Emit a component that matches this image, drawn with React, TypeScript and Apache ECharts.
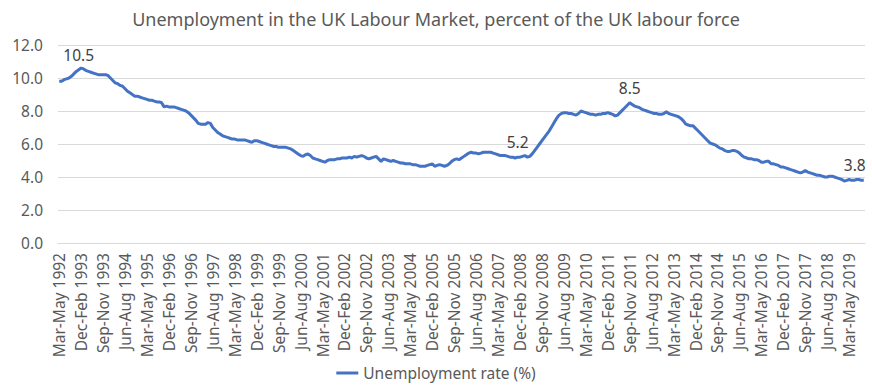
import React, { useEffect, useRef } from "react";
import * as echarts from "echarts";

// Unemployment rate (%), rolling three-month periods, labelled by end month
const u1992 = [9.8, 9.8, 9.9, 9.95, 10.0, 10.1, 10.25, 10.4]; // May-Dec
const u1993 = [10.5, 10.6, 10.55, 10.45, 10.4, 10.35, 10.3, 10.25, 10.2, 10.2, 10.2, 10.2];
const u1994 = [10.15, 10.0, 9.85, 9.7, 9.65, 9.55, 9.5, 9.35, 9.2, 9.1, 9.0, 8.9];
const u1995 = [8.9, 8.85, 8.8, 8.75, 8.7, 8.65, 8.65, 8.6, 8.55, 8.55, 8.5, 8.25];
const u1996 = [8.3, 8.25, 8.25, 8.25, 8.2, 8.15, 8.1, 8.05, 8.0, 7.9, 7.75, 7.6];
const u1997 = [7.45, 7.25, 7.2, 7.2, 7.2, 7.3, 7.25, 7.0, 6.85, 6.7, 6.6, 6.5];
const u1998 = [6.45, 6.4, 6.35, 6.3, 6.3, 6.25, 6.25, 6.25, 6.25, 6.2, 6.15, 6.1];
const u1999 = [6.2, 6.2, 6.15, 6.1, 6.05, 6.0, 5.95, 5.9, 5.85, 5.85, 5.8, 5.8];
const u2000 = [5.8, 5.8, 5.75, 5.7, 5.6, 5.5, 5.4, 5.3, 5.25, 5.35, 5.4, 5.3];
const u2001 = [5.15, 5.1, 5.05, 5.0, 4.95, 4.9, 5.0, 5.05, 5.05, 5.05, 5.1, 5.1];
const u2002 = [5.15, 5.15, 5.15, 5.2, 5.15, 5.25, 5.2, 5.25, 5.3, 5.25, 5.15, 5.1];
const u2003 = [5.15, 5.2, 5.25, 5.1, 4.95, 5.1, 5.05, 5.0, 4.95, 5.0, 4.95, 4.9];
const u2004 = [4.85, 4.85, 4.8, 4.8, 4.8, 4.75, 4.75, 4.7, 4.65, 4.65, 4.65, 4.7];
const u2005 = [4.75, 4.8, 4.65, 4.7, 4.75, 4.7, 4.65, 4.7, 4.8, 4.95, 5.05, 5.1];
const u2006 = [5.05, 5.15, 5.25, 5.35, 5.45, 5.5, 5.45, 5.45, 5.4, 5.45, 5.5, 5.5];
const u2007 = [5.5, 5.5, 5.45, 5.4, 5.35, 5.3, 5.3, 5.3, 5.25, 5.2, 5.2, 5.15];
const u2008 = [5.2, 5.2, 5.25, 5.3, 5.2, 5.25, 5.4, 5.6, 5.8, 6.0, 6.2, 6.4];
const u2009 = [6.6, 6.8, 7.05, 7.3, 7.55, 7.75, 7.85, 7.9, 7.9, 7.85, 7.85, 7.8];
const u2010 = [7.75, 7.85, 8.0, 7.95, 7.9, 7.85, 7.8, 7.8, 7.75, 7.8, 7.8, 7.85];
const u2011 = [7.85, 7.9, 7.85, 7.8, 7.7, 7.75, 7.9, 8.05, 8.2, 8.35, 8.5, 8.4];
const u2012 = [8.3, 8.25, 8.2, 8.1, 8.05, 8.0, 7.95, 7.9, 7.85, 7.85, 7.8, 7.8];
const u2013 = [7.85, 7.95, 7.85, 7.8, 7.75, 7.7, 7.65, 7.55, 7.4, 7.2, 7.15, 7.1];
const u2014 = [7.1, 6.95, 6.8, 6.65, 6.5, 6.35, 6.2, 6.05, 6.0, 5.95, 5.85, 5.75];
const u2015 = [5.7, 5.6, 5.55, 5.55, 5.6, 5.6, 5.55, 5.45, 5.3, 5.2, 5.15, 5.1];
const u2016 = [5.1, 5.05, 5.05, 5.0, 4.9, 4.9, 4.95, 4.95, 4.8, 4.8, 4.75, 4.7];
const u2017 = [4.6, 4.6, 4.55, 4.5, 4.45, 4.4, 4.35, 4.3, 4.25, 4.3, 4.4, 4.3];
const u2018 = [4.25, 4.2, 4.15, 4.1, 4.1, 4.05, 4.0, 4.0, 4.05, 4.05, 4.0, 3.95];
const u2019 = [3.9, 3.85, 3.75, 3.8, 3.85, 3.8, 3.8, 3.85, 3.85, 3.8, 3.8]; // Jan-Nov

const rates: number[] = [
  ...u1992, ...u1993, ...u1994, ...u1995, ...u1996, ...u1997, ...u1998,
  ...u1999, ...u2000, ...u2001, ...u2002, ...u2003, ...u2004, ...u2005,
  ...u2006, ...u2007, ...u2008, ...u2009, ...u2010, ...u2011, ...u2012,
  ...u2013, ...u2014, ...u2015, ...u2016, ...u2017, ...u2018, ...u2019,
];

// Points carrying a data label
const labelledIdx = [8, 188, 234, 330];

const monthNames = ["Jan", "Feb", "Mar", "Apr", "May", "Jun", "Jul", "Aug", "Sep", "Oct", "Nov", "Dec"];
const firstEndYear = 1992;
const firstEndMonth = 4; // May (0-based)

const categories: string[] = rates.map((_, i) => {
  const endAbs = firstEndYear * 12 + firstEndMonth + i;
  const startAbs = endAbs - 2;
  return `${monthNames[startAbs % 12]}-${monthNames[endAbs % 12]} ${Math.floor(endAbs / 12)}`;
});

const yTicks = [0, 2, 4, 6, 8, 10, 12];

const seriesName = "Unemployment rate (%)";
const titleText = "Unemployment in the UK Labour Market, percent of the UK labour force";

export default function App() {
  const ref = useRef<HTMLDivElement>(null);
  useEffect(() => {
    if (!ref.current) return;
    const chart = echarts.init(ref.current, null, { renderer: "svg" });
    const font = "Noto Sans";
    const grey = "#595959";
    const lastIdx = rates.length - 1;
    chart.setOption({
      animation: false,
      backgroundColor: "#ffffff",
      textStyle: { fontFamily: font },
      title: {
        text: titleText,
        left: "center",
        top: 5,
        textStyle: { fontFamily: font, fontSize: 18, fontWeight: "normal", color: grey },
      },
      grid: { left: 58, right: 7, top: 45, bottom: 145, containLabel: false },
      xAxis: {
        type: "category",
        data: categories,
        boundaryGap: true,
        axisLine: { show: true, lineStyle: { color: "#d9d9d9", width: 1 } },
        axisTick: { show: false },
        axisLabel: {
          interval: 8,
          rotate: 90,
          margin: 10,
          fontFamily: font,
          fontSize: 15.5,
          color: grey,
        },
        splitLine: { show: false },
      },
      yAxis: {
        type: "value",
        min: yTicks[0],
        max: yTicks[yTicks.length - 1],
        interval: 2,
        axisLine: { show: false },
        axisTick: { show: false },
        axisLabel: {
          margin: 15,
          fontFamily: font,
          fontSize: 15.5,
          color: grey,
          formatter: (v: number) => v.toFixed(1),
        },
        splitLine: { lineStyle: { color: "#d9d9d9", width: 1 } },
      },
      legend: {
        bottom: 2,
        left: "center",
        icon: "rect",
        itemWidth: 22,
        itemHeight: 3,
        textStyle: { fontFamily: font, fontSize: 15.5, color: grey },
        data: [seriesName],
      },
      series: [
        {
          name: seriesName,
          type: "line",
          showSymbol: true,
          showAllSymbol: true,
          symbol: "circle",
          symbolSize: 0,
          lineStyle: { color: "#4472C4", width: 3 },
          itemStyle: { color: "#4472C4" },
          emphasis: { disabled: true },
          data: rates.map((v, i) =>
            labelledIdx.includes(i)
              ? {
                  value: v,
                  label: {
                    show: true,
                    position: "top",
                    distance: 7,
                    fontFamily: font,
                    fontSize: 15.5,
                    color: "#404040",
                    offset: i === lastIdx ? [-9, 0] : [0, 0],
                    formatter: (p: any) => Number(p.value).toFixed(1),
                  },
                }
              : v
          ),
        },
      ],
    });
    return () => chart.dispose();
  }, []);
  return (
    <div
      ref={ref}
      style={{ position: "fixed", left: 0, top: 0, width: 872, height: 388 }}
    />
  );
}
